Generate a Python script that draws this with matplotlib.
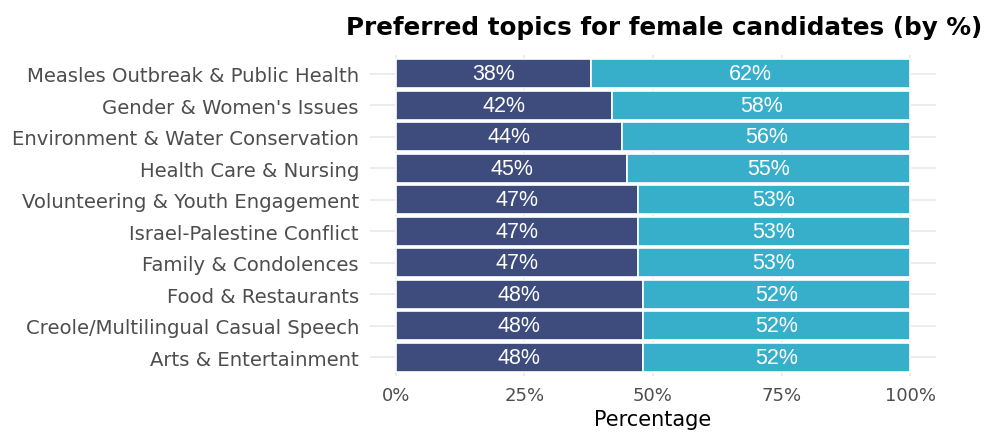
import matplotlib
matplotlib.use("Agg")
import matplotlib.pyplot as plt
import numpy as np

# topic shares, top row first
topics = ["Measles Outbreak & Public Health", "Gender & Women's Issues",
          "Environment & Water Conservation", "Health Care & Nursing",
          "Volunteering & Youth Engagement", "Israel-Palestine Conflict",
          "Family & Condolences", "Food & Restaurants",
          "Creole/Multilingual Casual Speech", "Arts & Entertainment"]
share_a = [38, 42, 44, 45, 47, 47, 47, 48, 48, 48]
share_b = [62, 58, 56, 55, 53, 53, 53, 52, 52, 52]

dark = "#3e4c7d"
teal = "#38afca"
grid = "#ebebeb"

plt.rcParams["font.family"] = ["DejaVu Sans"]

fig = plt.figure(figsize=(10.02, 4.35), dpi=100)
ax = fig.add_axes([370 / 1002, 58 / 435, 566 / 1002, 321 / 435])

y = np.arange(len(topics))[::-1]
a = np.array(share_a)
b = np.array(share_b)
ax.barh(y, a, height=0.92, color=dark, edgecolor="white", linewidth=1.2, zorder=2)
ax.barh(y, b, left=a, height=0.92, color=teal, edgecolor="white", linewidth=1.2, zorder=2)

for yi, va, vb in zip(y, a, b):
    ax.text(va / 2, yi, f"{va}%", color="white", ha="center", va="center",
            fontsize=15.5, family="Liberation Sans", zorder=3)
    ax.text(va + vb / 2, yi, f"{vb}%", color="white", ha="center", va="center",
            fontsize=15.5, family="Liberation Sans", zorder=3)

ax.set_xlim(-5, 105)
ax.set_ylim(-0.6, len(topics) - 0.4)
ax.set_xticks([0, 25, 50, 75, 100])
ax.set_xticklabels(["0%", "25%", "50%", "75%", "100%"])
ax.set_yticks(y)
ax.set_yticklabels(topics)
ax.tick_params(axis="both", length=0, labelcolor="#4d4d4d")
ax.tick_params(axis="y", pad=8, labelsize=14.1)
ax.tick_params(axis="x", pad=7, labelsize=13)
ax.grid(True, color=grid, linewidth=1.3, zorder=0)
ax.set_axisbelow(True)
for s in ax.spines.values():
    s.set_visible(False)

ax.set_xlabel("Percentage", fontsize=15, color="black", labelpad=4)
fig.text(982 / 1002, 1 - 28 / 435, "Preferred topics for female candidates (by %)",
         ha="right", va="center", fontsize=17.7, fontweight="bold", color="black")

fig.savefig("out.png", dpi=100)
